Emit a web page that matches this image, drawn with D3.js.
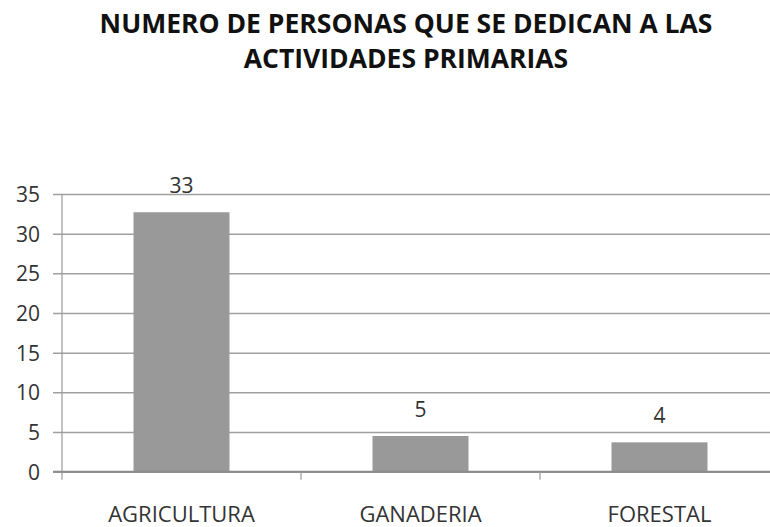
<!DOCTYPE html>
<html>
<head>
<meta charset="utf-8">
<script src="https://cdn.jsdelivr.net/npm/d3@7/dist/d3.min.js"></script>
<style>
  html, body { margin: 0; padding: 0; background: #fff; }
  svg { display: block; }
</style>
</head>
<body>
<svg id="chart" width="770" height="527"></svg>
<script>
const titleLines = ["NUMERO DE PERSONAS QUE SE DEDICAN A LAS", "ACTIVIDADES PRIMARIAS"];
const categories = ["AGRICULTURA", "GANADERIA", "FORESTAL"];
const values = [32.7, 4.5, 3.7];
const yTicks = [0, 5, 10, 15, 20, 25, 30, 35];

const W = 770, H = 527;
const svg = d3.select("#chart");
const font = "'Open Sans', 'DejaVu Sans', sans-serif";

const plot = { left: 62, top: 194, bottom: 471.7, right: 779 };

const x = d3.scaleBand().domain(categories).range([plot.left, plot.right]).paddingInner(0).paddingOuter(0);
const y = d3.scaleLinear().domain([0, 35]).range([plot.bottom, plot.top]);

// Title
svg.append("g").selectAll("text").data(titleLines).join("text")
  .attr("x", 406).attr("y", (d, i) => 33 + i * 35)
  .attr("text-anchor", "middle")
  .attr("font-family", font).attr("font-weight", "bold").attr("font-size", 26.5)
  .attr("fill", "#111")
  .text(d => d);

// Gridlines + y axis ticks
const yAxis = d3.axisLeft(y).tickValues(yTicks).tickSize(-(W - plot.left + 10)).tickSizeOuter(0).tickPadding(0);
const gy = svg.append("g").attr("transform", `translate(${plot.left},0)`).call(yAxis);
gy.select(".domain").remove();
gy.selectAll(".tick line")
  .attr("x1", -9)
  .attr("stroke", "#a0a0a0").attr("stroke-width", 1.5);
gy.selectAll(".tick text")
  .attr("x", -22).attr("dy", "0.36em")
  .attr("font-family", font).attr("font-size", 21).attr("fill", "#333").attr("text-anchor", "end");

// Bars
const barW = 96;
svg.append("g").selectAll("rect").data(values).join("rect")
  .attr("x", (d, i) => x(categories[i]) + x.bandwidth() / 2 - barW / 2)
  .attr("width", barW)
  .attr("y", d => y(d))
  .attr("height", d => y(0) - y(d))
  .attr("fill", "#999999");

// Value labels
svg.append("g").selectAll("text").data(values).join("text")
  .attr("x", (d, i) => x(categories[i]) + x.bandwidth() / 2)
  .attr("y", d => y(d) - 19)
  .attr("text-anchor", "middle")
  .attr("font-family", font).attr("font-size", 21).attr("fill", "#333")
  .text(d => d3.format(".0f")(d));

// Vertical axis line
svg.append("line")
  .attr("x1", plot.left).attr("x2", plot.left)
  .attr("y1", y(35)).attr("y2", plot.bottom + 8)
  .attr("stroke", "#999").attr("stroke-width", 1.2);

// X axis
const xAxis = d3.axisBottom(x).tickSize(0).tickSizeOuter(0).tickPadding(0);
const gx = svg.append("g").attr("transform", `translate(0,${plot.bottom})`).call(xAxis);
gx.select(".domain").remove();
gx.selectAll(".tick text")
  .attr("y", 50).attr("dy", 0)
  .attr("font-family", font).attr("font-size", 22).attr("fill", "#333");
gx.append("line")
  .attr("x1", plot.left - 9).attr("x2", W + 10)
  .attr("y1", 0).attr("y2", 0)
  .attr("stroke", "#8c8c8c").attr("stroke-width", 2);
// category boundary ticks
gx.selectAll(".bound").data(categories.slice(1)).join("line")
  .attr("class", "bound")
  .attr("x1", d => x(d)).attr("x2", d => x(d))
  .attr("y1", 0).attr("y2", 8)
  .attr("stroke", "#999").attr("stroke-width", 1.2);
</script>
</body>
</html>
